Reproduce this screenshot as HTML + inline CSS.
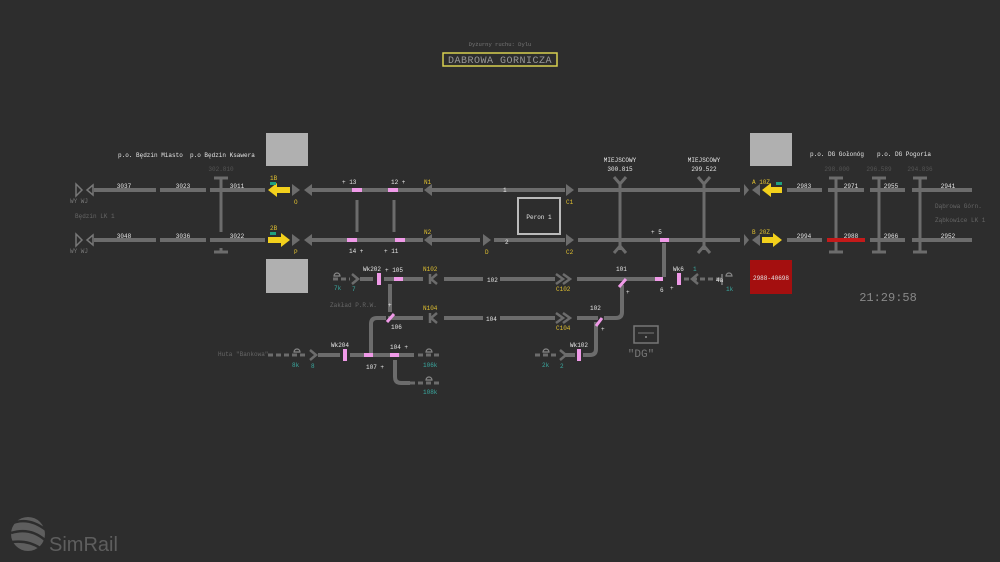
<!DOCTYPE html>
<html><head><meta charset="utf-8"><style>
html,body{margin:0;padding:0;background:#2d2d2d;}
svg{display:block;}
text{font-family:"Liberation Mono","DejaVu Sans Mono",monospace;font-size:6px;fill:#e6e6e6;}
.g{fill:#777;}
.y{fill:#e0c030;}
.c{fill:#3aa9a0;}
</style></head><body>
<svg width="1000" height="562" viewBox="0 0 1000 562" xmlns="http://www.w3.org/2000/svg">
<rect width="1000" height="562" fill="#2d2d2d"/>
<g stroke="#6c6c6c" stroke-width="4" fill="none">
<path d="M94 190H156M160 190H206M210 190H265M310 190H423M430 190H565M578 190H740M787 190H822M828 190H864M870 190H905M912 190H972"/>
<path d="M94 240H156M160 240H206M210 240H265M310 240H423M430 240H480M494 240H565M578 240H740M787 240H822M870 240H905M912 240H972"/>
<path d="M357 200V232M394 200V232" stroke-width="3"/>
<path d="M360 279H373M384 279H423M444 279H483M500 279H555M577 279H660M664 243V277"/>
<path d="M622 285V312Q622 318 616 318H604"/>
<path d="M390 284V312M388 318H423M444 318H483M500 318H555M577 318H598"/>
<path d="M386 318H377Q371 318 371 324V355"/>
<path d="M596 322V349Q596 355 590 355H583"/>
<path d="M318 355H340M350 355H414M564 355H575"/>
<path d="M395 360V377Q395 383 401 383H410"/>
</g>
<g stroke="#6c6c6c" stroke-width="3" fill="none">
<path d="M221 178V232M221 248V252M214 178H228M214 252H228M221 198V232"/>
<path d="M836 178V252M829 178H843M829 252H843M879 178V252M872 178H886M872 252H886M920 178V252M913 178H927M913 252H927"/>
<path d="M620 183V250M704 183V250"/>
<path d="M614 177L620 184L626 177M614 253L620 246L626 253M698 177L704 184L710 177M698 253L704 246L710 253"/>
</g>
<g stroke="#6c6c6c" stroke-width="3" fill="none" stroke-dasharray="5,3">
<path d="M333 279H350M684 279H722M268 355H305M418 355H442M535 355H558M410 383H442"/>
</g>
<path d="M722 274V285" stroke="#6c6c6c" stroke-width="2"/>
<g fill="#6c6c6c">
<polygon points="292,184 300,190 292,196"/><polygon points="312,184 304,190 312,196"/>
<polygon points="292,234 300,240 292,246"/><polygon points="312,234 304,240 312,246"/>
<polygon points="432,184 424,190 432,196"/><polygon points="432,234 424,240 432,246"/>
<polygon points="483,234 491,240 483,246"/>
<polygon points="566,184 574,190 566,196"/><polygon points="566,234 574,240 566,246"/>
<polygon points="744,184 749,190 744,196"/><polygon points="760,184 752,190 760,196"/>
<polygon points="744,234 749,240 744,246"/><polygon points="760,234 752,240 760,246"/>
</g>
<g fill="none" stroke="#777" stroke-width="1.5">
<polygon points="76,184 82,190 76,196"/><polygon points="93,185 87,190 93,195"/>
<polygon points="76,234 82,240 76,246"/><polygon points="93,235 87,240 93,245"/>
</g>
<g fill="none" stroke="#6c6c6c" stroke-width="2.5">
<path d="M352 274L358 279L352 284M437 274L431 279L437 284M437 313L431 318L437 323M430 274V284M430 313V323"/>
<path d="M556 274L563 279L556 284M563 274L570 279L563 284M556 313L563 318L556 323M563 313L570 318L563 323"/>
<path d="M698 274L692 279L698 284M310 350L316 355L310 360M560 350L566 355L560 360"/>
</g>
<g fill="none" stroke="#888" stroke-width="1.2">
<path d="M334 276A3 3 0 0 1 340 276ZM294 352A3 3 0 0 1 300 352ZM426 352A3 3 0 0 1 432 352ZM426 380A3 3 0 0 1 432 380ZM543 352A3 3 0 0 1 549 352ZM726 276A3 3 0 0 1 732 276Z"/>
</g>
<g fill="#f2d01c">
<rect x="276" y="187" width="14" height="6"/><polygon points="277,183 268,190 277,197"/>
<rect x="268" y="237" width="14" height="6"/><polygon points="281,233 290,240 281,247"/>
<rect x="770" y="187" width="12" height="6"/><polygon points="771,183 762,190 771,197"/>
<rect x="762" y="237" width="12" height="6"/><polygon points="773,233 782,240 773,247"/>
</g>
<g fill="#1fa080"><rect x="270" y="182" width="6" height="3"/><rect x="270" y="232" width="6" height="3"/><rect x="776" y="182" width="6" height="3"/></g>
<rect x="827" y="238" width="38" height="4" fill="#c41a1a"/>
<g fill="#f09ae8">
<rect x="352" y="188" width="10" height="4"/><rect x="388" y="188" width="10" height="4"/>
<rect x="347" y="238" width="10" height="4"/><rect x="395" y="238" width="10" height="4"/>
<rect x="660" y="238" width="9" height="4"/><rect x="655" y="277" width="8" height="4"/>
<rect x="394" y="277" width="9" height="4"/><rect x="364" y="353" width="9" height="4"/><rect x="390" y="353" width="9" height="4"/>
<rect x="377" y="273" width="4" height="12"/><rect x="677" y="273" width="4" height="12"/>
<rect x="343" y="349" width="4" height="12"/><rect x="577" y="349" width="4" height="12"/>
</g>
<g stroke="#f09ae8" stroke-width="3"><path d="M619 287L626 279M387 322L394 314M596 326L602 318"/></g>
<rect x="266" y="133" width="42" height="33" fill="#b0b0b0"/>
<rect x="266" y="259" width="42" height="34" fill="#b0b0b0"/>
<rect x="750" y="133" width="42" height="33" fill="#b0b0b0"/>
<rect x="750" y="260" width="42" height="34" fill="#a40f0f"/>
<text x="771" y="280" text-anchor="middle" fill="#fff">2988-40698</text>
<rect x="518" y="198" width="42" height="36" fill="none" stroke="#bbb" stroke-width="2"/>
<text x="539" y="219" text-anchor="middle">Peron 1</text>
<text x="500" y="46" text-anchor="middle" class="g" style="font-size:5.5px">Dyżurny ruchu: Dylu</text>
<rect x="443" y="53" width="114" height="13" fill="none" stroke="#d8d050" stroke-width="1.5"/>
<text x="500" y="63" text-anchor="middle" style="font-size:10px;fill:#999;letter-spacing:0.5px">DABROWA GORNICZA</text>
<rect x="634" y="326" width="24" height="17" fill="none" stroke="#777" stroke-width="1.5"/>
<path d="M638 333H654" stroke="#777"/><rect x="645" y="336" width="2" height="2" fill="#777"/>
<text x="641" y="357" text-anchor="middle" style="font-size:11px;fill:#777">"DG"</text>
<text x="888" y="301" text-anchor="middle" style="font-size:12px;fill:#888">21:29:58</text>
<text x="118" y="157">p.o. Będzin Miasto</text><text x="190" y="157">p.o Będzin Ksawera</text>
<text x="221" y="171" text-anchor="middle" style="fill:#555">302.810</text>
<text x="124" y="188" text-anchor="middle">3037</text><text x="183" y="188" text-anchor="middle">3023</text><text x="237" y="188" text-anchor="middle">3011</text>
<text x="124" y="238" text-anchor="middle">3048</text><text x="183" y="238" text-anchor="middle">3036</text><text x="237" y="238" text-anchor="middle">3022</text>
<text x="70" y="203" class="g">WY  WJ</text><text x="70" y="253" class="g">WY  WJ</text>
<text x="75" y="218" style="fill:#666">Będzin LK 1</text>
<text x="270" y="180" class="y">1B</text><text x="270" y="230" class="y">2B</text>
<text x="294" y="204" class="y">O</text><text x="294" y="254" class="y">P</text>
<text x="342" y="184">+ 13</text><text x="391" y="184">12 +</text><text x="424" y="184" class="y">N1</text>
<text x="349" y="253">14 +</text><text x="384" y="253">+ 11</text><text x="424" y="234" class="y">N2</text>
<text x="485" y="254" class="y">D</text><text x="503" y="192">1</text><text x="505" y="244">2</text>
<text x="566" y="204" class="y">C1</text><text x="566" y="254" class="y">C2</text>
<text x="620" y="162" text-anchor="middle">MIEJSCOWY</text><text x="620" y="171" text-anchor="middle">300.815</text>
<text x="704" y="162" text-anchor="middle">MIEJSCOWY</text><text x="704" y="171" text-anchor="middle">299.522</text>
<text x="651" y="234">+ 5</text>
<text x="752" y="184" class="y">A 10Z</text><text x="752" y="234" class="y">B 20Z</text>
<text x="804" y="188" text-anchor="middle">2983</text><text x="851" y="188" text-anchor="middle">2971</text><text x="891" y="188" text-anchor="middle">2955</text><text x="948" y="188" text-anchor="middle">2941</text>
<text x="804" y="238" text-anchor="middle">2994</text><text x="851" y="238" text-anchor="middle">2988</text><text x="891" y="238" text-anchor="middle">2966</text><text x="948" y="238" text-anchor="middle">2952</text>
<text x="810" y="156">p.o. DG Gołonóg</text><text x="877" y="156">p.o. DG Pogoria</text>
<text x="837" y="171" text-anchor="middle" style="fill:#555">298.000</text><text x="879" y="171" text-anchor="middle" style="fill:#555">296.589</text><text x="920" y="171" text-anchor="middle" style="fill:#555">294.836</text>
<text x="935" y="208" style="fill:#666">Dąbrowa Górn.</text><text x="935" y="222" style="fill:#666">Ząbkowice LK 1</text>
<text x="363" y="271">Wk202</text><text x="385" y="272">+ 105</text><text x="423" y="271" class="y">N102</text>
<text x="487" y="282">102</text><text x="556" y="291" class="y">C102</text>
<text x="616" y="271">101</text><text x="626" y="294">+</text><text x="660" y="292">6</text><text x="670" y="290">+</text>
<text x="673" y="271">Wk6</text><text x="693" y="271" class="c">1</text><text x="716" y="282">4a</text><text x="726" y="291" class="c">1k</text>
<text x="334" y="290" class="c">7k</text><text x="352" y="291" class="c">7</text>
<text x="330" y="307" style="fill:#666">Zakład P.R.W.</text><text x="388" y="307">+</text>
<text x="423" y="310" class="y">N104</text><text x="486" y="321">104</text><text x="556" y="330" class="y">C104</text>
<text x="590" y="310">102</text><text x="601" y="331">+</text><text x="391" y="329">106</text>
<text x="218" y="356" style="fill:#666">Huta "Bankowa"</text><text x="292" y="367" class="c">8k</text><text x="311" y="368" class="c">8</text>
<text x="331" y="347">Wk204</text><text x="390" y="349">104 +</text><text x="366" y="369">107 +</text>
<text x="423" y="367" class="c">106k</text><text x="423" y="394" class="c">108k</text>
<text x="542" y="367" class="c">2k</text><text x="560" y="368" class="c">2</text><text x="570" y="347">Wk102</text>
<g fill="#5e5e5e">
<circle cx="28" cy="534" r="17"/>
<path d="M10 524Q28 516 46 530" stroke="#2d2d2d" stroke-width="2.5" fill="none"/>
<path d="M11 533Q30 527 45 540" stroke="#2d2d2d" stroke-width="2.5" fill="none"/>
<path d="M12 542Q28 540 40 548" stroke="#2d2d2d" stroke-width="2.5" fill="none"/>
</g>
<text x="49" y="551" style="font-family:'Liberation Sans',sans-serif;font-size:20px;fill:#5e5e5e">SimRail</text>
</svg>
</body></html>
